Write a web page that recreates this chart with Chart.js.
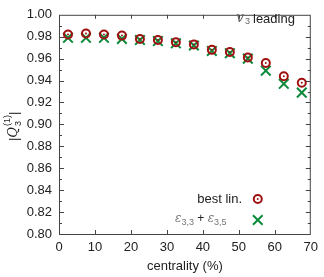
<!DOCTYPE html>
<html>
<head>
<meta charset="utf-8">
<script src="https://cdn.jsdelivr.net/npm/chart.js@4/dist/chart.umd.min.js"></script>
<style>
  html, body { margin: 0; padding: 0; background: #fff; }
  #wrap { width: 324px; height: 277px; }
</style>
</head>
<body>
<div id="wrap"><canvas id="c"></canvas></div>
<script>
// centrality bins and |Q3^(1)| values
const centrality = [2.5, 7.5, 12.5, 17.5, 22.5, 27.5, 32.5, 37.5, 42.5, 47.5, 52.5, 57.5, 62.5, 67.5];
const bestLin    = [0.982, 0.983, 0.982, 0.981, 0.978, 0.977, 0.975, 0.973, 0.968, 0.966, 0.961, 0.956, 0.944, 0.938];
const eps33eps35 = [0.979, 0.979, 0.979, 0.978, 0.977, 0.976, 0.974, 0.972, 0.967, 0.965, 0.960, 0.949, 0.937, 0.929];
const xTicks = [0, 10, 20, 30, 40, 50, 60, 70];
const yTicks = [0.80, 0.82, 0.84, 0.86, 0.88, 0.90, 0.92, 0.94, 0.96, 0.98, 1.00];
const yMinor = [0.81, 0.83, 0.85, 0.87, 0.89, 0.91, 0.93, 0.95, 0.97, 0.99];

const RED = '#a01010';
const GREEN = '#0b8a3c';
const TXT = '#222';
const FONT = '"Liberation Sans", Arial, sans-serif';
const CROSS_R = 6.8;

const pts = arr => centrality.map((c, i) => ({ x: c, y: arr[i] }));

// inward ticks on all four sides
const frameTicks = {
  id: 'frameTicks',
  afterDatasetsDraw(chart) {
    const { ctx, chartArea: a, scales: { x, y } } = chart;
    ctx.save();
    ctx.strokeStyle = '#444';
    ctx.lineWidth = 1;
    ctx.beginPath();
    xTicks.slice(1, -1).forEach(v => {
      const px = Math.round(x.getPixelForValue(v)) + 0.5;
      ctx.moveTo(px, a.bottom); ctx.lineTo(px, a.bottom - 4);
      ctx.moveTo(px, a.top); ctx.lineTo(px, a.top + 4);
    });
    yTicks.slice(1, -1).forEach(v => {
      const py = Math.round(y.getPixelForValue(v)) + 0.5;
      ctx.moveTo(a.left, py); ctx.lineTo(a.left + 5, py);
      ctx.moveTo(a.right, py); ctx.lineTo(a.right - 5, py);
    });
    yMinor.forEach(v => {
      const py = Math.round(y.getPixelForValue(v)) + 0.5;
      ctx.moveTo(a.left, py); ctx.lineTo(a.left + 3, py);
      ctx.moveTo(a.right, py); ctx.lineTo(a.right - 3, py);
    });
    ctx.stroke();
    ctx.strokeRect(a.left + 0.5, a.top + 0.5, a.right - a.left - 1, a.bottom - a.top);
    ctx.restore();
  }
};

// text: y title, label top-right, legend
const annotations = {
  id: 'annotations',
  afterDraw(chart) {
    const { ctx, chartArea: a } = chart;
    ctx.save();
    ctx.textBaseline = 'middle';

    // y axis title |Q_3^(1)|
    ctx.save();
    ctx.translate(14, (a.top + a.bottom) / 2 + 2);
    ctx.rotate(-Math.PI / 2);
    ctx.fillStyle = TXT;
    ctx.textAlign = 'left';
    const barFont = '13px ' + FONT;
    const qFont = 'italic 13px "DejaVu Serif", serif';
    ctx.font = barFont; const w0 = ctx.measureText('|').width;
    ctx.font = qFont; const w1 = ctx.measureText('Q').width;
    ctx.font = '9px ' + FONT; const w2 = ctx.measureText('(1)').width;
    const total = w0 + w1 + 1 + w2 + w0;
    let cx = -total / 2;
    ctx.font = barFont; ctx.fillText('|', cx, 0); cx += w0;
    ctx.font = qFont; ctx.fillText('Q', cx, 0); cx += w1 + 1;
    ctx.font = '9px ' + FONT;
    ctx.fillText('(1)', cx, -6);
    ctx.fillText('3', cx, 5);
    cx += w2;
    ctx.font = barFont; ctx.fillText('|', cx, 0);
    ctx.restore();

    // "v3 leading"
    ctx.fillStyle = '#666';
    ctx.textAlign = 'left';
    ctx.font = 'italic 14px "DejaVu Serif", serif';
    ctx.fillText('v', 236, 18);
    ctx.font = '9px ' + FONT;
    ctx.fillText('3', 245, 22);
    ctx.fillStyle = TXT;
    ctx.font = '13px ' + FONT;
    ctx.fillText('leading', 253, 19);

    // legend
    const mx = a.right - 53;
    const y1 = a.bottom - 35, y2 = a.bottom - 14;
    ctx.textAlign = 'right';
    ctx.fillStyle = TXT;
    ctx.font = '13px ' + FONT;
    ctx.fillText('best lin.', 242, y1);
    // epsilon_{3,3} + epsilon_{3,5}
    ctx.textAlign = 'left';
    const eps = (x0, sub) => {
      ctx.fillStyle = '#777';
      ctx.font = 'italic 12px "DejaVu Serif", serif';
      ctx.fillText('ε', x0, y2 - 1);
      const we = ctx.measureText('ε').width;
      ctx.font = '9px ' + FONT;
      ctx.fillText(sub, x0 + we, y2 + 3);
      return x0 + we + ctx.measureText(sub).width;
    };
    let lx = eps(175, '3,3');
    ctx.fillStyle = TXT;
    ctx.font = '12px ' + FONT;
    ctx.fillText(' + ', lx, y2 - 1);
    lx += ctx.measureText(' + ').width;
    eps(lx, '3,5');

    ctx.lineWidth = 2;
    ctx.strokeStyle = RED;
    ctx.beginPath(); ctx.arc(mx, y1, 4, 0, Math.PI * 2); ctx.stroke();
    ctx.fillStyle = RED;
    ctx.beginPath(); ctx.arc(mx, y1, 1, 0, Math.PI * 2); ctx.fill();
    ctx.strokeStyle = GREEN;
    ctx.fillStyle = 'rgba(0,0,0,0)';
    Chart.helpers.drawPoint(ctx, { pointStyle: 'crossRot', radius: CROSS_R, rotation: 0, borderWidth: 2 }, mx, y2);
    ctx.restore();
  }
};

new Chart(document.getElementById('c'), {
  type: 'scatter',
  data: {
    datasets: [
      {
        label: 'best lin.',
        data: pts(bestLin),
        pointStyle: 'circle',
        pointRadius: 4,
        borderWidth: 2,
        borderColor: RED,
        backgroundColor: 'rgba(0,0,0,0)',
      },
      {
        label: 'best lin. (centre)',
        data: pts(bestLin),
        pointStyle: 'circle',
        pointRadius: 1,
        borderWidth: 0,
        backgroundColor: RED,
      },
      {
        label: 'eps33 + eps35',
        data: pts(eps33eps35),
        pointStyle: 'crossRot',
        pointRadius: CROSS_R,
        borderWidth: 2,
        borderColor: GREEN,
      },
    ],
  },
  options: {
    responsive: true,
    maintainAspectRatio: false,
    animation: false,
    events: [],
    layout: { padding: { top: 7, right: 11, left: 0, bottom: 0 } },
    plugins: { legend: { display: false }, tooltip: { enabled: false } },
    scales: {
      x: {
        type: 'linear',
        min: 0, max: 70,
        afterFit: s => { s.height = 43; },
        afterBuildTicks: s => { s.ticks = xTicks.map(v => ({ value: v })); },
        grid: { display: false, drawTicks: false },
        border: { display: false },
        ticks: { color: TXT, font: { family: FONT, size: 13 }, padding: 6, maxRotation: 0 },
        title: { display: true, text: 'centrality (%)', color: TXT, font: { family: FONT, size: 13 }, padding: { top: 4, bottom: 3 } },
      },
      y: {
        min: 0.80, max: 1.00,
        afterFit: s => { s.width = 59; },
        afterBuildTicks: s => { s.ticks = yTicks.map(v => ({ value: v })); },
        grid: { display: false, drawTicks: false },
        border: { display: false },
        ticks: { color: TXT, font: { family: FONT, size: 13 }, padding: 7, callback: v => v.toFixed(2) },
      },
    },
  },
  plugins: [frameTicks, annotations],
});
</script>
</body>
</html>
